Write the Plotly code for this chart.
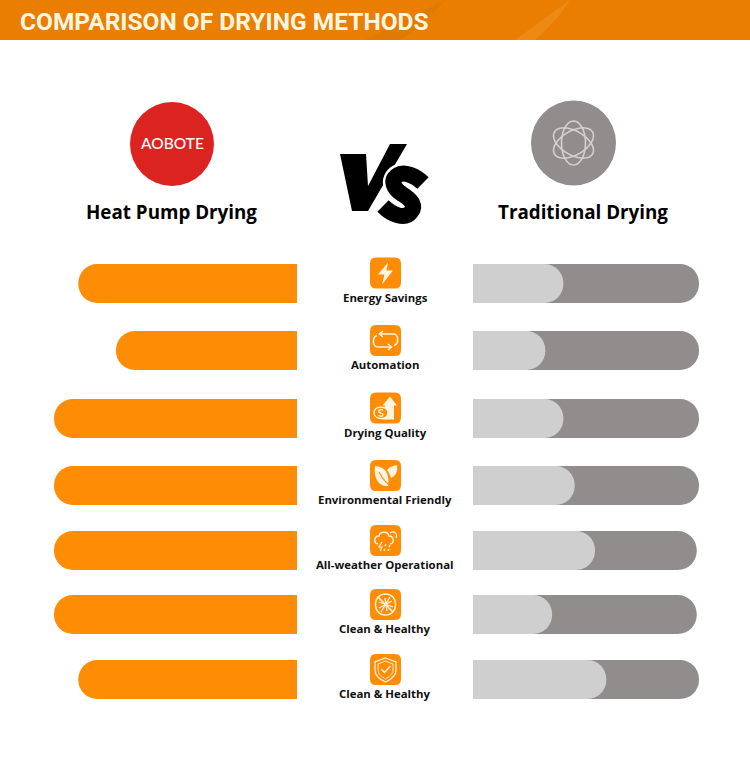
import re
import math
import plotly.graph_objects as go

# ---- data ----
categories = ["Energy Savings", "Automation", "Drying Quality", "Environmental Friendly",
              "All-weather Operational", "Clean & Healthy", "Clean & Healthy"]
heat_pump = [90, 74.5, 100, 100, 100, 100, 90]
traditional = [40, 32, 40, 45, 54, 35, 59]
track = [100, 100, 100, 100, 99, 99, 100]
row_y = [283.5, 350.5, 418.5, 485.5, 550.5, 614.5, 679.5]
icon_y = [273, 340.5, 408, 475.5, 540.5, 604.5, 669.5]
label_y = [297.5, 364.5, 432.5, 499.5, 564.5, 628.5, 693.5]
title = "COMPARISON OF DRYING METHODS"
left_name = "Heat Pump Drying"
right_name = "Traditional Drying"

ORANGE = "#FF8C05"
GRAY = "#918D8D"
LIGHT = "#CFCFCF"
BAR_W = 39

fig = go.Figure()
fig.add_trace(go.Scatter(x=[0], y=[0], xaxis="x3", yaxis="y", mode="markers",
                         marker=dict(opacity=0), hoverinfo="skip"))
fig.add_trace(go.Bar(y=row_y, x=heat_pump, orientation="h", width=BAR_W, xaxis="x", yaxis="y",
                     marker=dict(color=ORANGE, cornerradius=19.5, line_width=0), hoverinfo="skip"))
fig.add_trace(go.Bar(y=row_y, x=track, orientation="h", width=BAR_W, xaxis="x2", yaxis="y",
                     marker=dict(color=GRAY, cornerradius=19.5, line_width=0), hoverinfo="skip"))
fig.add_trace(go.Bar(y=row_y, x=traditional, orientation="h", width=BAR_W, xaxis="x4", yaxis="y",
                     marker=dict(color=LIGHT, cornerradius=19.5, line_width=0), hoverinfo="skip"))

shapes = []
ann = []


def shift(path, ox=0.0, oy=0.0, s=1.0):
    def rep(m):
        return f"{ox + s * float(m.group(1)):.2f},{oy + s * float(m.group(2)):.2f}"
    return re.sub(r"(-?[\d.]+),(-?[\d.]+)", rep, path)


def add_path(path, fill=None, line=None, width=0, layer="above"):
    shapes.append(dict(type="path", xref="x3", yref="y", path=path, layer=layer,
                       fillcolor=fill if fill else "rgba(0,0,0,0)",
                       line=dict(color=line if line else "rgba(0,0,0,0)", width=width)))


def add_circle(cx, cy, r, fill=None, line=None, width=0):
    shapes.append(dict(type="circle", xref="x3", yref="y", x0=cx - r, x1=cx + r, y0=cy - r, y1=cy + r,
                       fillcolor=fill if fill else "rgba(0,0,0,0)",
                       line=dict(color=line if line else "rgba(0,0,0,0)", width=width)))


def ellipse(cx, cy, a, b, rot, n=48):
    t = math.radians(rot)
    pts = []
    for i in range(n):
        u = 2 * math.pi * i / n
        x, y = a * math.cos(u), b * math.sin(u)
        pts.append(f"{cx + x * math.cos(t) - y * math.sin(t):.2f},{cy + x * math.sin(t) + y * math.cos(t):.2f}")
    return "M " + " L ".join(pts) + " Z"


def txt(x, y, s, size, family, color="#000", weight=400, anchor="center"):
    ann.append(dict(x=x, y=y, xref="x3", yref="y", text=s, showarrow=False, xanchor=anchor, yanchor="middle",
                    font=dict(size=size, family=family, color=color, weight=weight)))


# header
shapes.append(dict(type="rect", xref="x3", yref="y", x0=0, x1=750, y0=0, y1=40, fillcolor="#E97E02", line_width=0))
add_path("M 445,0 L 365,40 L 400,40 Q 428,22 444,0 Z", fill="#DF7A05")
add_path("M 570,0 L 515,40 L 535,40 Q 558,20 570,0 Z", fill="#EE8A14")
txt(18, 21, title, 24.5, "Roboto", "#FFF6E0", 700, "left")

# logos
add_circle(172, 144, 42, fill="#DB2420")
txt(172, 143, "AOBOTE", 15.5, "Lato", "#FFFFFF", 500)
add_circle(573.5, 143, 42.5, fill=GRAY)
for rot in (90, 30, 150):
    add_path(ellipse(573.5, 143, 22, 12, rot), line="#D2D0D0", width=1.6)

# VS
add_path("M 340,154 L 366,154 L 368,186 L 390,144 L 407,144 L 368,211 L 352,211 Z", fill="#000000")
s_path = ("M 423,183 C 416,176 404,171 398,175 C 390,180 393,188 402,194 "
          "C 412,200 416,206 411,212 C 405,220 392,215 383,206")
add_path(s_path, line="#FFFFFF", width=21)
add_path(s_path, line="#000000", width=16)

txt(171.5, 212, left_name, 18.8, "Open Sans", "#000", 700)
txt(583, 212, right_name, 18.8, "Open Sans", "#000", 700)

# icons
W = "#FFF4E0"
glyphs = [
    [("M 18,5 L 8,17 L 14.5,17 L 12,27 L 23,13 L 16.5,13 Z", W, None, 0)],
    [("M 11,9 L 23,9 C 29,9 29,19 24,20.5", None, W, 1.5),
     ("M 20,22 L 8,22 C 2,22 2,12 7,10.5", None, W, 1.5),
     ("M 13,6 L 9.5,9 L 13,12", None, W, 1.5), ("M 18,19 L 21.5,22 L 18,25", None, W, 1.5)],
    [("M 20,4 L 27,13 L 24,13 L 24,27 L 12,27 L 15,13 L 12.5,13 Z", W, None, 0),
     ("M 4,20 C 4,13 18,13 18,20 C 18,28 4,28 4,20 Z", ORANGE, W, 1.5),
     ("M 13,17.5 C 10,16.5 8,18 9,19.5 C 10,21 13,20.5 13,22.5 C 13,24 10,24 8.5,23", None, W, 1.4)],
    [("M 5,6 C 15,7 20,13 18,26 C 9,27 3,18 5,6 Z", W, None, 0),
     ("M 17,10 C 19,7 23,6 27,5 C 28,11 26,16 21,18 C 20,15 19,12 17,10 Z", W, None, 0),
     ("M 9,12 C 12,18 16,24 24,28", None, ORANGE, 1.1)],
    [("M 8,19 C 3,18 4,11 9,11 C 10,6 18,6 19,11 C 24,11 25,18 20,19", None, W, 1.4),
     ("M 20,8 C 24,5 28,9 26,13", None, W, 1.2),
     ("M 12,17 L 9,22 L 12,22 L 10,26", None, W, 1.2),
     ("M 16,19 L 15,21 M 20,20 L 19,22 M 15,24 L 14,26 M 19,24 L 18,26", None, W, 1.4)],
    [("M 15.5,5 C 29,5 29,26 15.5,26 C 2,26 2,5 15.5,5 Z", None, W, 1.5),
     ("M 8,8 L 23,23", None, W, 1.5),
     ("M 20,8 L 11,23 M 9,13 L 23,18 M 15,9 L 17,22 M 9,19 L 22,12", None, W, 1.3)],
    [("M 15.5,4 L 26,8 L 26,16 C 26,22 20,26 15.5,28 C 11,26 5,22 5,16 L 5,8 Z", None, W, 1.3),
     ("M 15.5,7 L 23,10 L 23,16 C 23,20 19,23 15.5,25 C 12,23 8,20 8,16 L 8,10 Z", None, W, 0.9),
     ("M 11,15 L 14.5,18.5 L 20.5,12", None, W, 1.5)],
]
R = 6
for i, cy in enumerate(icon_y):
    ox, oy = 370, cy - 15.5
    rect = (f"M {R},0 L {31-R},0 Q 31,0 31,{R} L 31,{31-R} Q 31,31 {31-R},31 "
            f"L {R},31 Q 0,31 0,{31-R} L 0,{R} Q 0,0 {R},0 Z")
    add_path(shift(rect, ox, oy), fill=ORANGE)
    for p, fill, line, w in glyphs[i]:
        add_path(shift(p, ox, oy), fill=fill, line=line, width=w)
    txt(385, label_y[i], categories[i], 11.4, "Open Sans", "#111", 700)

fig.update_layout(
    width=750, height=763, margin=dict(l=0, r=0, t=0, b=0), showlegend=False, barmode="overlay",
    paper_bgcolor="white", plot_bgcolor="rgba(0,0,0,0)", shapes=shapes, annotations=ann,
    xaxis=dict(domain=[0, 297 / 750], range=[100 * 297 / 243, 0], visible=False, fixedrange=True),
    xaxis2=dict(domain=[473 / 750, 1], range=[0, 100 * 277 / 226], visible=False, fixedrange=True),
    xaxis3=dict(domain=[0, 1], range=[0, 750], visible=False, fixedrange=True),
    xaxis4=dict(domain=[473 / 750, 1], range=[0, 100 * 277 / 226], visible=False, fixedrange=True),
    yaxis=dict(domain=[0, 1], range=[763, 0], visible=False, fixedrange=True),
)
fig.write_html("out.html", config=dict(displayModeBar=False), post_script="document.body.style.margin='0';")
